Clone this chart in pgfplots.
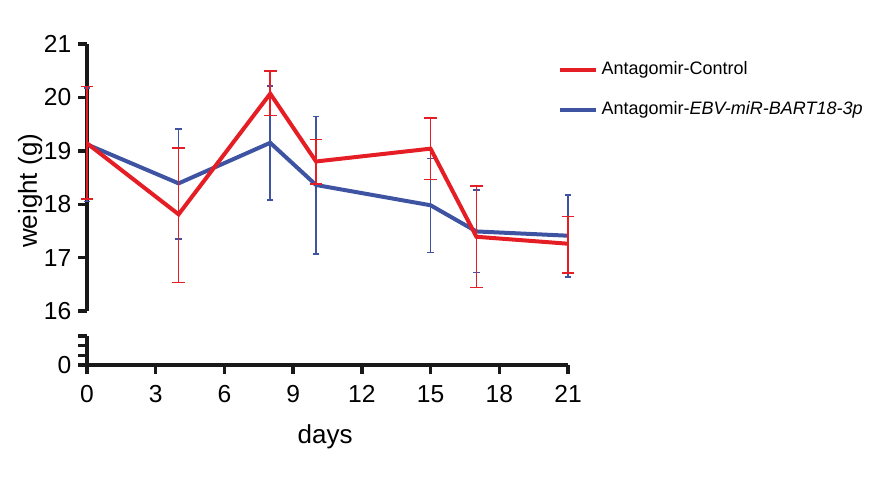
\documentclass[border=0pt]{standalone}
\usepackage{fontspec}
\setmainfont{Liberation Sans}
\usepackage{pgfplots}
\usepackage{pgfplotstable}
\pgfplotsset{compat=1.18}
\definecolor{cred}{RGB}{228,30,36}
\definecolor{cblue}{RGB}{62,84,163}
\pgfplotstableread{
x y hi lo
0 19.14 20.20 18.10
4 17.81 19.05 16.53
8 20.07 20.49 19.66
10 18.80 19.21 18.38
15 19.04 19.61 18.46
17 17.39 18.34 16.44
21 17.26 17.77 16.71
}\red
\pgfplotstableread{
x y hi lo
0 19.12 20.18 18.05
4 18.39 19.41 17.35
8 19.15 20.21 18.08
10 18.36 19.64 17.07
15 17.98 18.86 17.10
17 17.49 18.27 16.72
21 17.41 18.17 16.64
}\blue
\begin{document}
\begin{tikzpicture}
\path[use as bounding box] (0pt,0pt) rectangle (446pt,249.5pt);
\pgfplotsset{
  common/.style={
    scale only axis, width=240.5pt,
    /pgf/number format/assume math mode=true,
    tick label style={font=\fontsize{12.3}{14}\selectfont},
    axis line style={line width=1.7pt, black!90},
    every tick/.style={line width=1.7pt, black!90},
    tick align=outside, major tick length=4.3pt, minor tick length=4.3pt,
    xmin=0, xmax=21,
  }
}
\begin{axis}[common,
  at={(43.5pt,94pt)}, anchor=south west, height=133.5pt,
  ymin=16, ymax=21, ytick={16,17,...,21},
  axis y line*=left, axis x line=none, clip=false,
  ylabel={weight (g)},
  ylabel style={font=\fontsize{13}{15}\selectfont, at={(axis description cs:-0.118,0.45)}, anchor=center},
  legend style={at={(axis description cs:0.965,0.965)}, anchor=north west, draw=none, fill=none,
    font=\fontsize{9}{11}\selectfont, row sep=8pt},
  legend cell align=left, reverse legend,
  legend image code/.code={\draw[#1, line width=2pt] (0pt,0pt) -- (18pt,0pt);},
]
\addplot[cblue, line width=2pt, mark=none,
  error bars/.cd, y dir=both, y explicit,
  error bar style={line width=0.75pt, cblue},
  error mark options={rotate=90, mark size=1.6pt, line width=0.75pt, cblue}]
  table[x=x, y=y, y error plus expr=\thisrow{hi}-\thisrow{y}, y error minus expr=\thisrow{y}-\thisrow{lo}] {\blue};
\addlegendentry{Antagomir-\textit{EBV-miR-BART18-3p}}
\addplot[cred, line width=2pt, mark=none,
  error bars/.cd, y dir=both, y explicit,
  error bar style={line width=0.75pt, cred},
  error mark options={rotate=90, mark size=3.2pt, line width=0.75pt, cred}]
  table[x=x, y=y, y error plus expr=\thisrow{hi}-\thisrow{y}, y error minus expr=\thisrow{y}-\thisrow{lo}] {\red};
\addlegendentry{Antagomir-Control}
\end{axis}
\begin{axis}[common,
  at={(43.5pt,67pt)}, anchor=south west, height=14.5pt,
  ymin=0, ymax=3, ytick={0,3}, yticklabels={0,}, minor ytick={1,2},
  xtick={0,3,...,21},
  xticklabel style={yshift=-2.5pt},
  axis y line*=left, axis x line*=bottom,
  xlabel={days},
  xlabel style={font=\fontsize{13}{15}\selectfont, at={(axis description cs:0.495,-2.48)}, anchor=center},
]
\addplot[draw=none, forget plot] coordinates {(0,0)};
\end{axis}
\end{tikzpicture}
\end{document}
